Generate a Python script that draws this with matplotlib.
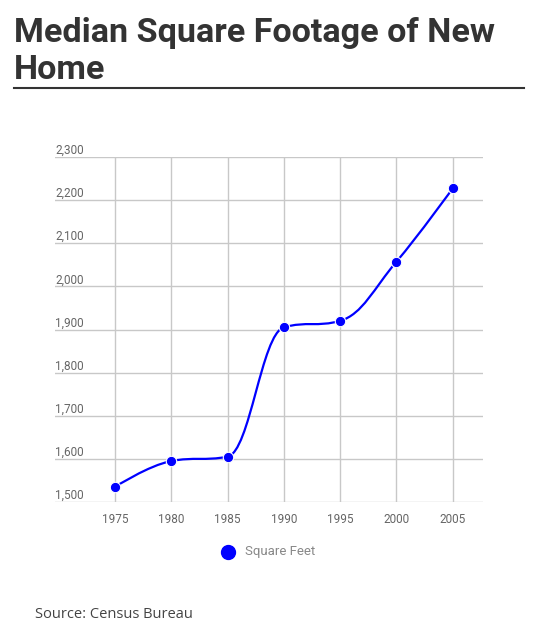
import numpy as np
import matplotlib
matplotlib.use('Agg')
import matplotlib.pyplot as plt
from matplotlib.path import Path
from matplotlib.patches import PathPatch
from matplotlib.lines import Line2D

# data
years = [1975, 1980, 1985, 1990, 1995, 2000, 2005]
sqft = [1535, 1595, 1605, 1905, 1920, 2057, 2227]
y_ticks = [1500, 1600, 1700, 1800, 1900, 2000, 2100, 2200, 2300]

title = 'Median Square Footage of New\nHome'
series_name = 'Square Feet'
source = 'Source: Census Bureau'

BLUE = '#0000ff'
GRID = '#c8c8c8'
LABEL = '#666666'
NARROW = ['Roboto', 'DejaVu Sans']


def spline_path(xs, ys, smoothing=1.5):
    # highcharts-style spline: cubic bezier with control points per point
    n = len(xs)
    denom = smoothing + 1
    conts = []
    for i in range(n):
        if i == 0 or i == n - 1:
            conts.append((xs[i], ys[i], xs[i], ys[i]))
            continue
        lx, ly = xs[i - 1], ys[i - 1]
        nx, ny = xs[i + 1], ys[i + 1]
        px, py = xs[i], ys[i]
        lcx = (smoothing * px + lx) / denom
        lcy = (smoothing * py + ly) / denom
        rcx = (smoothing * px + nx) / denom
        rcy = (smoothing * py + ny) / denom
        corr = (rcy - lcy) * (rcx - px) / (rcx - lcx) + py - rcy
        lcy += corr
        rcy += corr
        if lcy > max(ly, py):
            lcy = max(ly, py); rcy = 2 * py - lcy
        elif lcy < min(ly, py):
            lcy = min(ly, py); rcy = 2 * py - lcy
        if rcy > max(py, ny):
            rcy = max(py, ny); lcy = 2 * py - rcy
        elif rcy < min(py, ny):
            rcy = min(py, ny); lcy = 2 * py - rcy
        conts.append((lcx, lcy, rcx, rcy))
    verts = [(xs[0], ys[0])]
    codes = [Path.MOVETO]
    for i in range(1, n):
        verts += [(conts[i - 1][2], conts[i - 1][3]), (conts[i][0], conts[i][1]), (xs[i], ys[i])]
        codes += [Path.CURVE4] * 3
    return Path(verts, codes)


fig = plt.figure(figsize=(5.36, 6.39), dpi=100)

fig.text(14 / 536, 1 - 17 / 639, title, ha='left', va='top', fontsize=24.6,
         fontweight='bold', color='#333333', family='Roboto', linespacing=1.2)
fig.add_artist(Line2D([14 / 536, 524 / 536], [1 - 88 / 639] * 2, color='#333333', lw=1.5))

ax = fig.add_axes([55 / 536, 1 - 502 / 639, 428 / 536, 345 / 639])
ax.set_xlim(1969.67, 2007.7)
ax.set_ylim(1500, 2300)

for s in ax.spines.values():
    s.set_visible(False)
ax.set_yticks(y_ticks)
ax.set_xticks(years)
ax.grid(True, color=GRID, lw=1)
ax.tick_params(length=0)
ax.set_yticklabels([])
ax.set_xticklabels([str(y) for y in years], color=LABEL, fontsize=8.5, family=NARROW)
ax.tick_params(axis='x', pad=8)

for v in y_ticks:
    ax.text(0, v, f'{v:,}', transform=ax.get_yaxis_transform(), ha='left', va='bottom',
            color=LABEL, fontsize=8.5, family=NARROW)

ax.add_patch(PathPatch(spline_path(years, sqft), facecolor='none', edgecolor=BLUE,
                       lw=1.6, zorder=3))
ax.plot(years, sqft, 'o', color=BLUE, markersize=7.5, markeredgecolor='white',
        markeredgewidth=0.8, zorder=4, clip_on=False)

# legend
fig.add_artist(Line2D([228 / 536], [1 - 552 / 639], marker='o', color=BLUE,
                      markersize=10, linestyle='none'))
fig.text(245 / 536, 1 - 552 / 639, series_name, ha='left', va='center', fontsize=9.5,
         color='#888888', family=NARROW)

fig.text(35 / 536, 1 - 615 / 639, source, ha='left', va='center', fontsize=10.5,
         color='#444444', family='Open Sans')

fig.savefig('out.png', dpi=100)
